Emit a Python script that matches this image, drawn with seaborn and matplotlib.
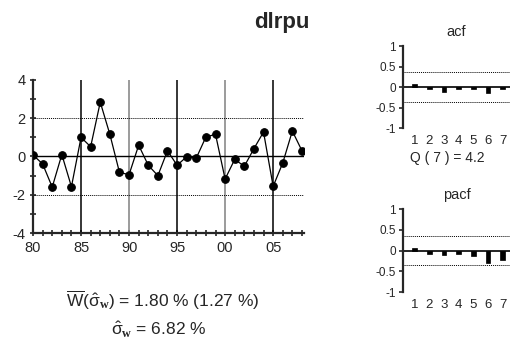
import numpy as np
import pandas as pd
import seaborn as sns
import matplotlib
matplotlib.use("Agg")
import matplotlib.pyplot as plt

years = list(range(1980, 2009))
dlrpu = [0.08, -0.39, -1.60, 0.10, -1.58, 1.00, 0.51, 2.84, 1.16, -0.83,
         -0.95, 0.59, -0.46, -1.00, 0.30, -0.46, -0.01, -0.08, 1.02, 1.16,
         -1.18, -0.15, -0.51, 0.41, 1.28, -1.56, -0.34, 1.33, 0.30]
lags = [1, 2, 3, 4, 5, 6, 7]
acf = [0.07, -0.05, -0.11, -0.05, -0.05, -0.14, -0.05]
pacf = [0.07, -0.09, -0.11, -0.09, -0.14, -0.30, -0.24]
acf_band = 0.36
pacf_band = 0.35
year_ticks = [1980, 1985, 1990, 1995, 2000, 2005]
year_labels = ["80", "85", "90", "95", "00", "05"]

sns.set_style("ticks")
plt.rcParams['font.family'] = ['Liberation Sans', 'DejaVu Sans']
plt.rcParams['axes.unicode_minus'] = False
plt.rcParams['mathtext.fontset'] = 'custom'
plt.rcParams['mathtext.rm'] = 'Liberation Sans'
plt.rcParams['mathtext.it'] = 'Liberation Sans:italic'
plt.rcParams['mathtext.bf'] = 'Liberation Serif:bold'

fig = plt.figure(figsize=(5.12, 3.47), dpi=100)

# main series
ax = fig.add_axes([0.0645, 0.3285, 0.529, 0.441])
df = pd.DataFrame({'year': years, 'v': dlrpu})
for yr, c in zip(year_ticks[1:], ['black', 'gray', 'black', 'gray', 'black']):
    ax.axvline(yr, color=c, lw=1.1, zorder=1)
ax.axhline(0, color='black', lw=1.0, zorder=1)
for h in (2, -2):
    ax.axhline(h, color='black', lw=0.7, ls=(0, (1, 1)), zorder=1)
sns.lineplot(data=df, x='year', y='v', ax=ax, color='black', lw=0.9,
             marker='o', markersize=5.5, markeredgecolor='black', zorder=3)
ax.set_xlim(1980, 2008.2)
ax.set_ylim(-4, 4)
ax.set_xticks(year_ticks)
ax.set_xticklabels(year_labels)
ax.set_xticks(years, minor=True)
ax.set_yticks([-4, -2, 0, 2, 4])
ax.set_yticks(range(-4, 5), minor=True)
ax.tick_params(which='both', direction='inout', length=5, width=1.2, labelsize=10.5, pad=3)
ax.set_xlabel("")
ax.set_ylabel("")
for s in ['top', 'right']:
    ax.spines[s].set_visible(False)
for s in ['left', 'bottom']:
    ax.spines[s].set_linewidth(1.6)

fig.text(0.55, 0.935, "dlrpu", ha='center', va='center', fontsize=16, fontweight='bold')


def corr_panel(rect, vals, band, title):
    a = fig.add_axes(rect)
    d = pd.DataFrame({'lag': lags, 'r': vals})
    a.axhline(0, color='black', lw=1.2, zorder=1)
    for h in (band, -band):
        a.axhline(h, color='black', lw=0.7, ls=(0, (1, 1)), zorder=1)
    sns.barplot(data=d, x='lag', y='r', ax=a, color='black', width=0.3,
                native_scale=True, saturation=1, edgecolor='black', linewidth=0.5,
                zorder=2)
    a.set_xlim(0.2, 7.5)
    a.set_ylim(-1, 1)
    a.set_yticks([-1, -0.5, 0, 0.5, 1])
    a.set_yticklabels(["-1", "-0.5", "0", "0.5", "1"])
    a.set_xticks([])
    a.set_xlabel("")
    a.set_ylabel("")
    for s in ['top', 'right', 'bottom']:
        a.spines[s].set_visible(False)
    a.spines['left'].set_linewidth(1.6)
    a.tick_params(axis='y', direction='out', length=3, width=1.2, labelsize=8.5, pad=2)
    for l in lags:
        a.text(l, -1.18, str(l), ha='center', va='top', fontsize=9.5)
    a.set_title(title, fontsize=10.5, pad=7)
    return a


corr_panel([0.787, 0.631, 0.209, 0.236], acf, acf_band, "acf")
fig.text(0.873, 0.545, "Q ( 7 ) = 4.2", ha='center', va='center', fontsize=10)
corr_panel([0.787, 0.1585, 0.209, 0.239], pacf, pacf_band, "pacf")

fig.text(0.318, 0.135, r"$\overline{\mathrm{W}}(\hat{\mathrm{\sigma}}_{\mathbf{w}})$ = 1.80 % (1.27 %)",
         ha='center', va='center', fontsize=12.5)
fig.text(0.31, 0.05, r"$\hat{\mathrm{\sigma}}_{\mathbf{w}}$ = 6.82 %",
         ha='center', va='center', fontsize=12.5)

fig.savefig("out.png", dpi=100)
